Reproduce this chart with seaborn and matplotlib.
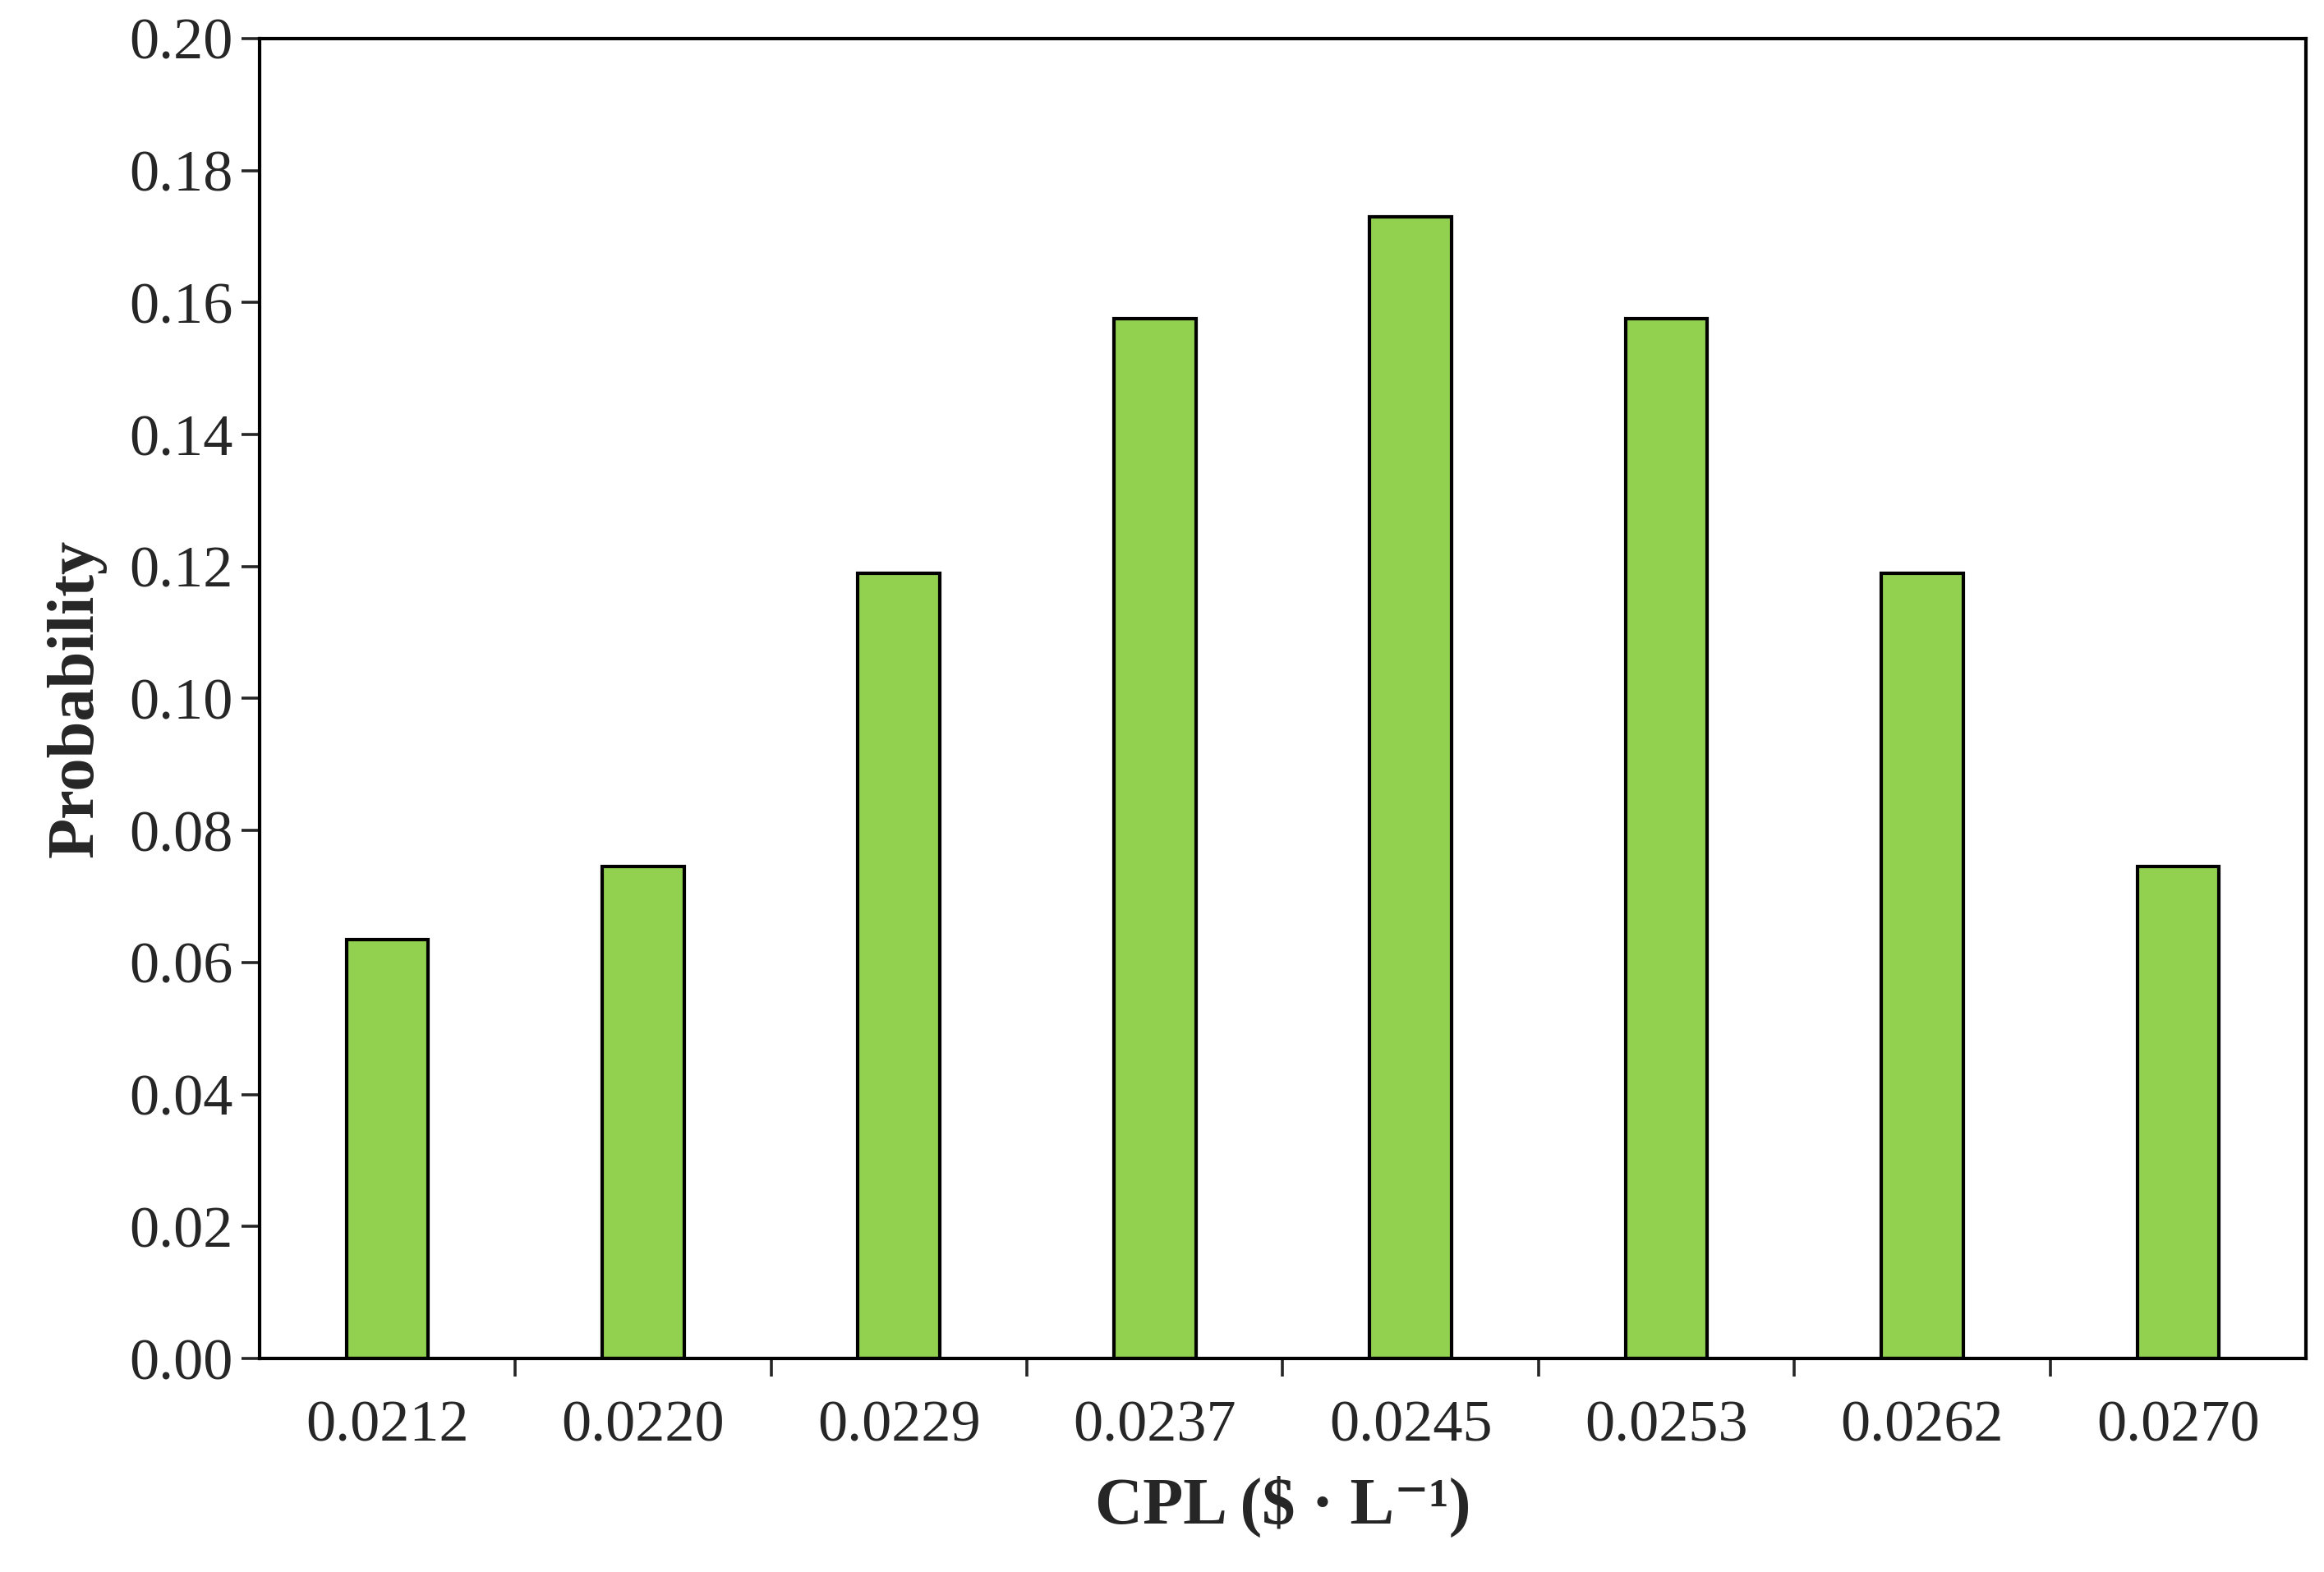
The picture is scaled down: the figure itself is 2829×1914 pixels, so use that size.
import seaborn as sns
import matplotlib.pyplot as plt
import pandas as pd

cpl = ['0.0212', '0.0220', '0.0229', '0.0237', '0.0245', '0.0253', '0.0262', '0.0270']
prob = [0.0635, 0.0745, 0.119, 0.1575, 0.173, 0.1575, 0.119, 0.0745]
df = pd.DataFrame({'cpl': cpl, 'prob': prob})

sns.set_style('white')
plt.rcParams['font.serif'] = ['Liberation Serif', 'DejaVu Serif']
plt.rcParams['font.family'] = ['Liberation Serif', 'DejaVu Serif']

fig = plt.figure(figsize=(14.145, 9.57), dpi=200)
ax = fig.add_axes([0.1116, 0.1358, 0.8807, 0.8397])
sns.barplot(data=df, x='cpl', y='prob', color='#92d050', width=0.32,
            edgecolor='black', linewidth=1.5, saturation=1, ax=ax)
ax.set_ylim(0, 0.20)
ax.set_xlim(-0.5, len(cpl) - 0.5)
ax.set_yticks([i * 0.02 for i in range(11)])
ax.set_yticklabels([f'{i * 0.02:.2f}' for i in range(11)])
ax.set_xticks([i + 0.5 for i in range(len(cpl) - 1)], minor=True)
ax.tick_params(axis='x', which='major', length=0, labelsize=26, pad=18)
ax.tick_params(axis='x', which='minor', length=8, width=1.3, direction='out', bottom=True)
ax.tick_params(axis='y', length=8, width=1.3, direction='out', left=True, labelsize=26)
for s in ax.spines.values():
    s.set_linewidth(1.5)
    s.set_color('black')
ax.set_xlabel('CPL ($ · L\u207b\u00b9)', fontsize=29, fontweight='bold', labelpad=10)
ax.set_ylabel('Probability', fontsize=29, fontweight='bold', labelpad=10)
fig.savefig('out.png', dpi=200)
